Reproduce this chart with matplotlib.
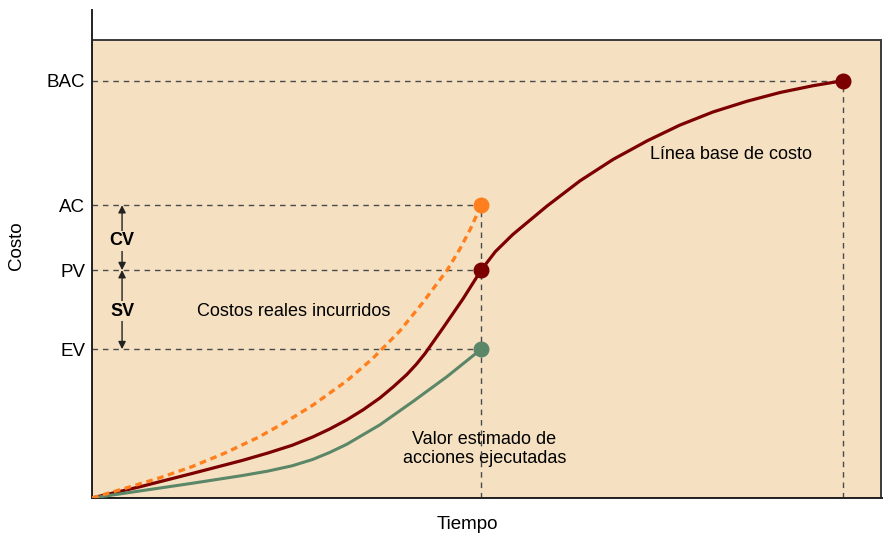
import matplotlib
matplotlib.use("Agg")
import matplotlib.pyplot as plt
from matplotlib.patches import Rectangle

plt.rcParams['font.family'] = ['Liberation Sans', 'DejaVu Sans']

# Status date and end of project (time units)
t_status = 4.92
t_end = 9.49

# Cost levels
tick_names = ['EV', 'PV', 'AC', 'BAC']
tick_values = [3.05, 4.67, 6.00, 8.55]
ev, pv, ac, bac = tick_values

# Planned value curve (cost baseline)
pv_t = [0, 0.63, 1.26, 1.90, 2.22, 2.53, 2.79, 3.00, 3.22, 3.43, 3.64, 3.81, 3.98,
        4.10, 4.21, 4.44, 4.69, 4.92, 5.10, 5.32, 5.75, 6.17, 6.59, 7.02, 7.43,
        7.85, 8.28, 8.70, 9.12, 9.49]
pv_c = [0, 0.24, 0.50, 0.77, 0.92, 1.08, 1.25, 1.41, 1.60, 1.81, 2.05, 2.28, 2.53,
        2.74, 2.96, 3.49, 4.08, 4.67, 5.05, 5.40, 5.98, 6.50, 6.94, 7.32, 7.64,
        7.91, 8.13, 8.31, 8.45, 8.55]

# Actual cost curve
ac_t = [0, 0.42, 0.85, 1.26, 1.68, 2.11, 2.44, 2.79, 3.22, 3.55, 3.89, 4.18,
        4.49, 4.65, 4.78, 4.92]
ac_c = [0, 0.20, 0.41, 0.64, 0.92, 1.25, 1.55, 1.90, 2.40, 2.86, 3.42, 4.00,
        4.67, 5.10, 5.50, 6.00]

# Earned value curve
ev_t = [0, 0.63, 1.26, 1.90, 2.22, 2.53, 2.79, 3.00, 3.22, 3.64, 4.06, 4.49, 4.92]
ev_c = [0, 0.15, 0.30, 0.46, 0.55, 0.66, 0.79, 0.93, 1.10, 1.50, 1.98, 2.49, 3.05]

beige = '#f5e1c2'
red = '#7c0000'
orange = '#ff7f1e'
green = '#5b8768'
grid_col = '#4a4a4a'

fig = plt.figure(figsize=(8.83, 5.35), dpi=100)
ax = fig.add_axes([92 / 883, 37 / 535, 791 / 883, 488 / 535])
ax.set_xlim(0, 10)
ax.set_ylim(0, 10)

# Background panel
ax.add_patch(Rectangle((0, 0), 9.97, 9.39, facecolor=beige, edgecolor='#3a3a3a',
                       linewidth=1.4, zorder=0))

# Reference dashed lines
dash = dict(color=grid_col, linestyle=(0, (4, 3.5)), linewidth=1.0, zorder=1)
ax.plot([0, t_end], [bac, bac], **dash)
ax.plot([t_end, t_end], [0, bac], **dash)
for v in (ac, pv, ev):
    ax.plot([0, t_status], [v, v], **dash)
ax.plot([t_status, t_status], [0, ac], **dash)

# Curves
ax.plot(pv_t, pv_c, color=red, linewidth=2.3, zorder=3, solid_joinstyle='round')
ax.plot(ev_t, ev_c, color=green, linewidth=2.2, zorder=3, solid_joinstyle='round')
ax.plot(ac_t, ac_c, color=orange, linewidth=2.4, linestyle=(0, (2.0, 1.4)), zorder=3)

# Markers
ax.plot(t_end, bac, 'o', color=red, markersize=10.5, zorder=4)
ax.plot(t_status, pv, 'o', color=red, markersize=10.5, zorder=4)
ax.plot(t_status, ac, 'o', color=orange, markersize=10.5, zorder=4)
ax.plot(t_status, ev, 'o', color=green, markersize=10.5, zorder=4)

# Variance arrows
arrow_x = 0.38
arrowprops = dict(arrowstyle='<|-|>', color='#222222', lw=1.0,
                  mutation_scale=11, shrinkA=0, shrinkB=0)
ax.annotate('', xy=(arrow_x, ac), xytext=(arrow_x, pv), arrowprops=arrowprops, zorder=2)
ax.annotate('', xy=(arrow_x, pv), xytext=(arrow_x, ev), arrowprops=arrowprops, zorder=2)
ax.text(arrow_x, 5.27, 'CV', ha='center', va='center', fontsize=13, fontweight='bold',
        bbox=dict(facecolor=beige, edgecolor='none', pad=1.0), zorder=3)
ax.text(arrow_x, 3.83, 'SV', ha='center', va='center', fontsize=13, fontweight='bold',
        bbox=dict(facecolor=beige, edgecolor='none', pad=1.0), zorder=3)

# Annotations
ax.text(7.05, 7.03, 'Línea base de costo', ha='left', va='center', fontsize=13)
ax.text(1.33, 3.83, 'Costos reales incurridos', ha='left', va='center', fontsize=13)
ax.text(4.96, 1.0, 'Valor estimado de\nacciones ejecutadas', ha='center', va='center',
        fontsize=13, linespacing=1.15, zorder=0.5)

# Axes styling
ax.set_yticks(tick_values)
ax.set_yticklabels(tick_names, fontsize=13.5)
ax.tick_params(axis='y', length=0, pad=5)
ax.set_xticks([])
for side in ('top', 'right'):
    ax.spines[side].set_visible(False)
for side in ('left', 'bottom'):
    ax.spines[side].set_color('#222222')
    ax.spines[side].set_linewidth(1.4)

ax.text(-0.095, 0.518, 'Costo', transform=ax.transAxes, rotation=90,
        ha='center', va='center', fontsize=13.5)
ax.text(0.475, -0.055, 'Tiempo', transform=ax.transAxes,
        ha='center', va='center', fontsize=13.5)

fig.savefig('out.png', dpi=100)
